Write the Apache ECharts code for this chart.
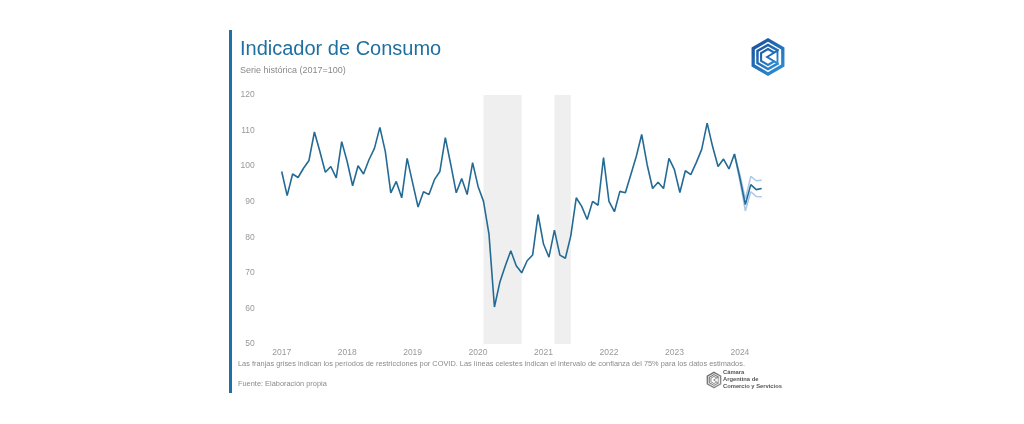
<!DOCTYPE html>
<html>
<head>
<meta charset="utf-8">
<script src="https://cdn.jsdelivr.net/npm/echarts@6/dist/echarts.min.js"></script>
<style>
html,body{margin:0;padding:0;background:#fff;}
#c{width:1024px;height:424px;}
</style>
</head>
<body>
<div id="c"></div>
<script>
// ---- data ----
const years = ['2017','2018','2019','2020','2021','2022','2023','2024'];
const v2017 = [98.5, 91.7, 97.8, 96.8, 99.4, 101.6, 109.6, 104.1, 98.3, 99.9, 96.7, 106.9];
const v2018 = [101.3, 94.5, 100.1, 97.8, 101.8, 105.0, 110.9, 104.1, 92.5, 95.7, 91.1, 102.2];
const v2019 = [95.3, 88.5, 92.8, 92.0, 96.2, 98.5, 108.0, 100.4, 92.5, 96.5, 92.0, 101.0];
const v2020 = [94.3, 90.1, 80.9, 60.4, 67.4, 72.0, 76.2, 72.0, 70.0, 73.4, 75.0, 86.4];
const v2021 = [78.1, 74.4, 82.0, 75.0, 74.1, 80.4, 91.1, 88.7, 85.0, 90.1, 89.0, 102.4];
const v2022 = [90.1, 87.2, 92.9, 92.5, 97.6, 102.7, 108.9, 100.4, 93.7, 95.5, 93.7, 102.2];
const v2023 = [99.0, 92.6, 98.7, 97.6, 101.0, 104.7, 112.1, 105.5, 99.9, 102.0, 99.2, 103.4];
const v2024 = [96.7, 89.2, 94.8, 93.4, 93.7];
const ciStart = '2023-12';
const ciUpperVals = [103.4, 97.6, 90.8, 97.1, 95.9, 96.0];
const ciLowerVals = [103.4, 95.8, 87.4, 92.8, 91.5, 91.4];
const covidBands = [['2020-02','2020-09'], ['2021-03','2021-06']];
const yTicks = [50, 60, 70, 80, 90, 100, 110, 120];

// ---- build ----
const yearVals = [v2017, v2018, v2019, v2020, v2021, v2022, v2023, v2024];
const categories = [];
const values = [];
yearVals.forEach((arr, yi) => {
  arr.forEach((v, mi) => {
    categories.push(years[yi] + '-' + String(mi + 1).padStart(2, '0'));
    values.push(v);
  });
});
const startIdx = categories.indexOf(ciStart);
const ciUpper = categories.map((c, i) => (i >= startIdx ? ciUpperVals[i - startIdx] : null));
const ciLower = categories.map((c, i) => (i >= startIdx ? ciLowerVals[i - startIdx] : null));

const chart = echarts.init(document.getElementById('c'), null, {renderer: 'canvas'});
const FONT = 'Liberation Sans, Arial, sans-serif';

function hexPts(cx, cy, r, angles) {
  return angles.map(a => [cx + r * Math.cos(a * Math.PI / 180), cy + r * Math.sin(a * Math.PI / 180)]);
}
function logo(cx, cy, R, c1, c2) {
  const all = [-90, -30, 30, 90, 150, 210];
  const grad = new echarts.graphic.LinearGradient(0, 0, 1, 1, [{offset: 0, color: c1}, {offset: 1, color: c2}]);
  const els = [];
  els.push({type: 'polygon', shape: {points: hexPts(cx, cy, R, all)}, style: {fill: grad}});
  els.push({type: 'polygon', shape: {points: hexPts(cx, cy, R * 0.8, all)}, style: {fill: '#fff'}});
  const cAngles = [-30, -90, 210, 150, 90, 30];
  els.push({type: 'polyline', shape: {points: hexPts(cx, cy, R * 0.64, cAngles)}, style: {stroke: grad, lineWidth: R * 0.13, fill: null}});
  els.push({type: 'polyline', shape: {points: hexPts(cx, cy, R * 0.42, cAngles)}, style: {stroke: grad, lineWidth: R * 0.11, fill: null}});
  els.push({type: 'polygon', shape: {points: [[cx - R * 0.05, cy], [cx + R * 0.5, cy - R * 0.33], [cx + R * 0.5, cy + R * 0.33]]},
    style: {stroke: grad, lineWidth: R * 0.1, fill: '#fff'}});
  return els;
}

const graphics = [
  {type: 'rect', shape: {x: 229, y: 30, width: 3, height: 363}, style: {fill: '#1f6fa8'}},
  {type: 'text', x: 240, y: 49.5, style: {text: 'Indicador de Consumo', font: '20px ' + FONT, fill: '#1f6fa0', textVerticalAlign: 'middle'}},
  {type: 'text', x: 240, y: 71, style: {text: 'Serie histórica (2017=100)', font: '9px ' + FONT, fill: '#8a8a8a', textVerticalAlign: 'middle'}},
  {type: 'text', x: 238, y: 364, style: {text: 'Las franjas grises indican los períodos de restricciones por COVID. Las líneas celestes indican el intervalo de confianza del 75% para los datos estimados.', font: '7.4px ' + FONT, fill: '#8a8a8a', textVerticalAlign: 'middle'}},
  {type: 'text', x: 238, y: 384, style: {text: 'Fuente: Elaboración propia', font: '7.4px ' + FONT, fill: '#8a8a8a', textVerticalAlign: 'middle'}},
  {type: 'text', x: 723, y: 372, style: {text: 'Cámara', font: 'bold 5.8px ' + FONT, fill: '#555', textVerticalAlign: 'middle'}},
  {type: 'text', x: 723, y: 379, style: {text: 'Argentina de', font: 'bold 5.8px ' + FONT, fill: '#555', textVerticalAlign: 'middle'}},
  {type: 'text', x: 723, y: 386, style: {text: 'Comercio y Servicios', font: 'bold 5.8px ' + FONT, fill: '#555', textVerticalAlign: 'middle'}}
].concat(logo(768, 57, 19, '#1a4c98', '#2d95dc')).concat(logo(714, 380, 8.5, '#666', '#999'));

chart.setOption({
  animation: false,
  backgroundColor: '#fff',
  grid: {left: 281.7, right: 262.3, top: 95, bottom: 80, containLabel: false},
  xAxis: {
    type: 'category',
    data: categories,
    boundaryGap: false,
    axisLine: {show: false},
    axisTick: {show: false},
    splitLine: {show: false},
    axisLabel: {
      interval: (i, v) => v.slice(5) === '01',
      formatter: v => v.slice(0, 4),
      color: '#999', fontSize: 8.5, fontFamily: FONT, margin: 4
    }
  },
  yAxis: {
    type: 'value',
    min: yTicks[0], max: yTicks[yTicks.length - 1], interval: 10,
    axisLine: {show: false},
    axisTick: {show: false},
    splitLine: {show: false},
    axisLabel: {color: '#999', fontSize: 8.5, fontFamily: FONT, margin: 27}
  },
  series: [
    {
      type: 'line', data: ciUpper, symbol: 'none', z: 2,
      lineStyle: {color: '#abc8e8', width: 1.5}
    },
    {
      type: 'line', data: ciLower, symbol: 'none', z: 2,
      lineStyle: {color: '#abc8e8', width: 1.5}
    },
    {
      type: 'line', data: values, symbol: 'none', z: 3,
      lineStyle: {color: '#236b94', width: 1.6},
      markArea: {
        silent: true,
        itemStyle: {color: '#efefef'},
        data: covidBands.map(b => [{xAxis: b[0]}, {xAxis: b[1]}])
      }
    }
  ],
  graphic: graphics
});
</script>
</body>
</html>
